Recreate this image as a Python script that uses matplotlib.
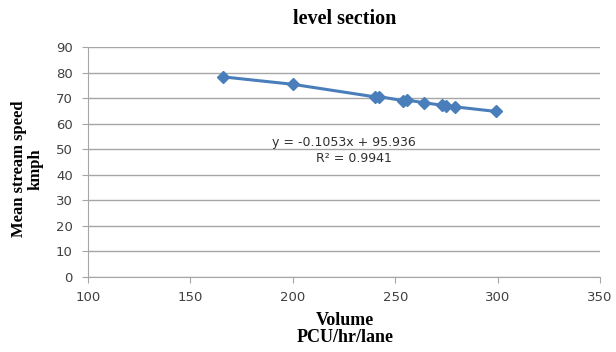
import numpy as np
import matplotlib
matplotlib.use("Agg")
import matplotlib.pyplot as plt

# data
volume = [166, 200, 240, 242, 254, 256, 264, 273, 275, 279, 299]
speed = [78.3, 75.4, 70.5, 70.6, 69.0, 69.2, 68.2, 67.2, 67.0, 66.6, 64.8]
xticks = [100, 150, 200, 250, 300, 350]
yticks = [0, 10, 20, 30, 40, 50, 60, 70, 80, 90]
eq_text = "y = -0.1053x + 95.936"
r2_text = "R² = 0.9941"

serif = ['Liberation Serif', 'DejaVu Serif']
blue = '#4a7ebb'
grey = '#a6a6a6'

fig = plt.figure(figsize=(6.16, 3.52), dpi=100, facecolor='w')
ax = fig.add_axes([0.1429, 0.2131, 0.8311, 0.6534])

ax.plot(volume, speed, color=blue, lw=2.2, marker='D', ms=6,
        mfc=blue, mec=blue, zorder=3)

ax.set_xlim(100, 350)
ax.set_ylim(0, 90)
ax.set_xticks(xticks)
ax.set_yticks(yticks)
ax.tick_params(labelsize=9.5, colors='#404040', length=4, color=grey)
ax.tick_params(axis='x', pad=6)
ax.tick_params(axis='y', pad=7)
ax.grid(axis='y', color=grey, lw=1)
ax.set_axisbelow(True)
for s in ['top', 'right']:
    ax.spines[s].set_visible(False)
for s in ['left', 'bottom']:
    ax.spines[s].set_color(grey)

fig.text(0.56, 0.945, "level section", ha='center', va='center',
         fontsize=14.5, fontweight='bold', family=serif)
fig.text(0.044, 0.52, "Mean stream speed\nkmph", ha='center', va='center',
         rotation=90, fontsize=12, fontweight='bold', family=serif,
         linespacing=1.1)
fig.text(0.56, 0.065, "Volume\nPCU/hr/lane", ha='center', va='center',
         fontsize=13, fontweight='bold', family=serif, linespacing=1.0)

ax.text(0.5, 0.585, eq_text, transform=ax.transAxes, ha='center',
        va='center', fontsize=9, color='#303030')
ax.text(0.52, 0.515, r2_text, transform=ax.transAxes, ha='center',
        va='center', fontsize=9, color='#303030')

fig.savefig("out.png", dpi=100)
